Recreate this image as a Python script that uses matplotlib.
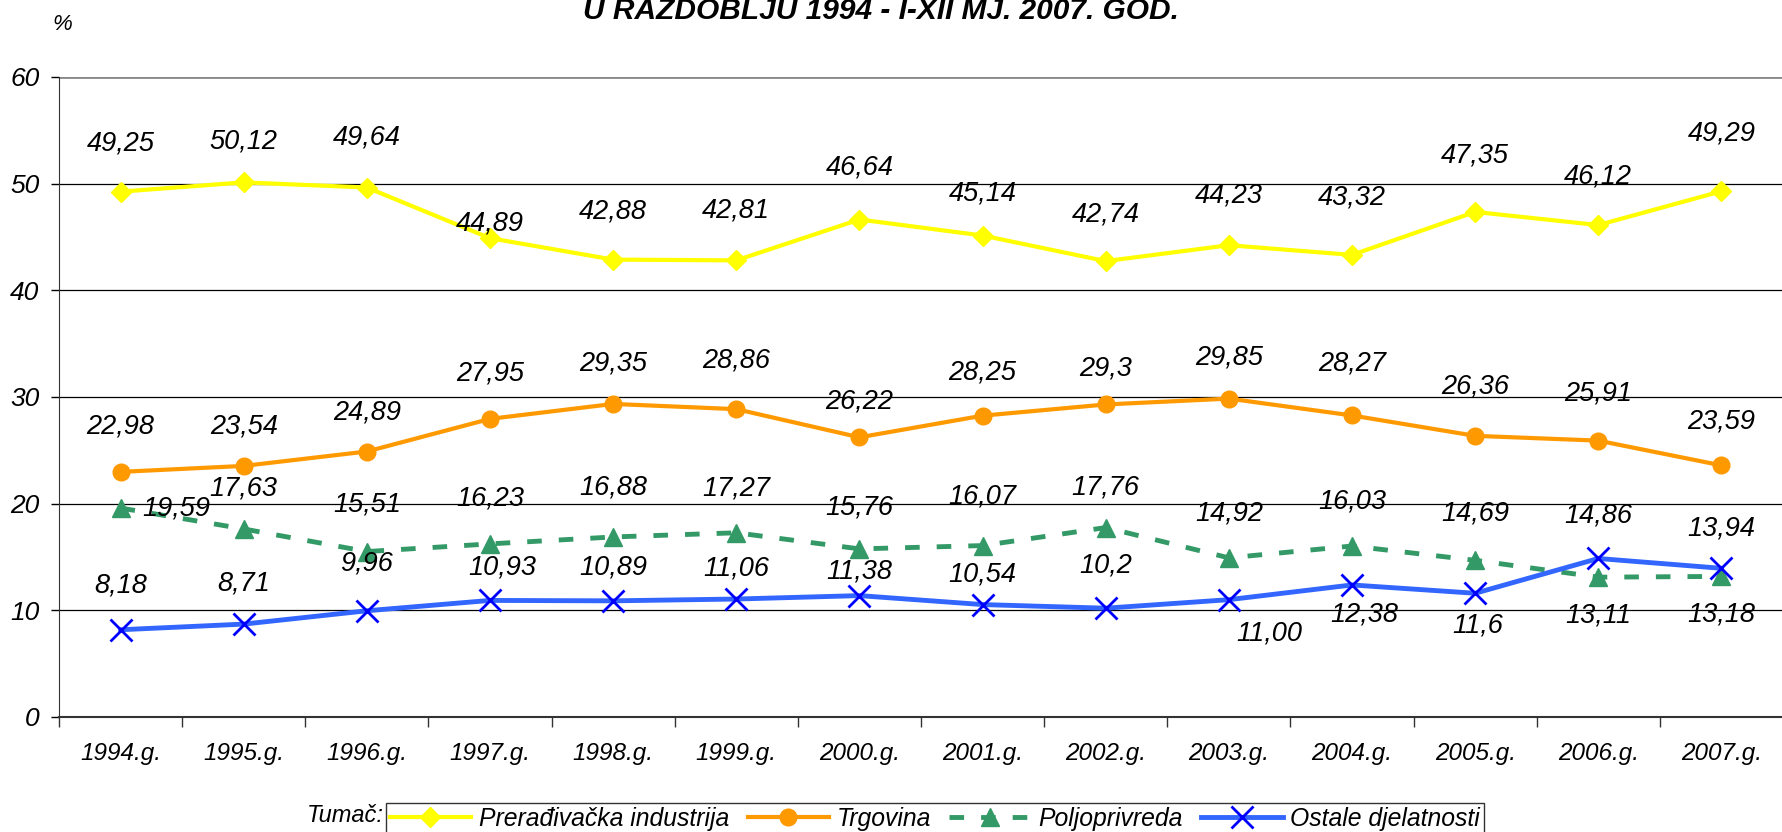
import matplotlib
matplotlib.use("Agg")
import matplotlib.pyplot as plt

plt.rcParams['font.family'] = ['Liberation Sans', 'DejaVu Sans']
plt.rcParams['font.style'] = 'italic'

years = ["1994.g.", "1995.g.", "1996.g.", "1997.g.", "1998.g.", "1999.g.", "2000.g.",
         "2001.g.", "2002.g.", "2003.g.", "2004.g.", "2005.g.", "2006.g.", "2007.g."]

preradjivacka = [49.25, 50.12, 49.64, 44.89, 42.88, 42.81, 46.64, 45.14, 42.74, 44.23, 43.32, 47.35, 46.12, 49.29]
trgovina = [22.98, 23.54, 24.89, 27.95, 29.35, 28.86, 26.22, 28.25, 29.3, 29.85, 28.27, 26.36, 25.91, 23.59]
poljoprivreda = [19.59, 17.63, 15.51, 16.23, 16.88, 17.27, 15.76, 16.07, 17.76, 14.92, 16.03, 14.69, 13.11, 13.18]
ostale = [8.18, 8.71, 9.96, 10.93, 10.89, 11.06, 11.38, 10.54, 10.2, 11.00, 12.38, 11.6, 14.86, 13.94]

lbl_prer = ["49,25", "50,12", "49,64", "44,89", "42,88", "42,81", "46,64", "45,14", "42,74", "44,23", "43,32", "47,35", "46,12", "49,29"]
lbl_trg = ["22,98", "23,54", "24,89", "27,95", "29,35", "28,86", "26,22", "28,25", "29,3", "29,85", "28,27", "26,36", "25,91", "23,59"]
lbl_polj = ["19,59", "17,63", "15,51", "16,23", "16,88", "17,27", "15,76", "16,07", "17,76", "14,92", "16,03", "14,69", "13,11", "13,18"]
lbl_ost = ["8,18", "8,71", "9,96", "10,93", "10,89", "11,06", "11,38", "10,54", "10,2", "11,00", "12,38", "11,6", "14,86", "13,94"]

# label offsets in pixels (dx, dy), dy positive = up
off_prer = [(0, 48), (0, 41), (0, 50), (0, 15), (0, 48), (0, 50), (0, 52), (0, 42), (0, 47), (0, 50), (0, 57), (0, 56), (0, 49), (0, 58)]
off_trg = [(0, 45), (0, 39), (0, 39), (0, 45), (0, 40), (0, 49), (0, 36), (0, 43), (0, 36), (0, 41), (0, 52), (0, 49), (0, 47), (0, 44)]
off_polj = [(56, 0), (0, 40), (0, 47), (0, 45), (0, 49), (0, 44), (0, 41), (0, 49), (0, 40), (0, 44), (0, 45), (0, 47), (0, -38), (0, -38)]
off_ost = [(0, 44), (0, 41), (0, 47), (12, 33), (0, 33), (0, 31), (0, 24), (0, 30), (0, 43), (40, -34), (12, -30), (3, -32), (0, 43), (0, 40)]

fig = plt.figure(figsize=(17.83, 8.32), dpi=100)
ax = fig.add_axes([59 / 1783, 115 / 832, 1724 / 1783, (717 - 77) / 832])

x = list(range(len(years)))

ax.plot(x, preradjivacka, color="#FFFF00", lw=3, marker="D", ms=10, mfc="#FFFF00", mec="#FFFF00",
        label="Prerađivačka industrija", zorder=3)
ax.plot(x, trgovina, color="#FF9900", lw=3, marker="o", ms=12, mfc="#FF9900", mec="#FF9900",
        label="Trgovina", zorder=3)
ax.plot(x, poljoprivreda, color="#339966", lw=3.5, ls=(0, (3, 3.5)), marker="^", ms=13,
        mfc="#339966", mec="#339966", label="Poljoprivreda", zorder=3)
ax.plot(x, ostale, color="#3366FF", lw=3.5, marker="x", ms=16, mew=2, mec="#0000FF",
        label="Ostale djelatnosti", zorder=4)

for vals, lbls, offs in [(preradjivacka, lbl_prer, off_prer), (trgovina, lbl_trg, off_trg),
                         (poljoprivreda, lbl_polj, off_polj), (ostale, lbl_ost, off_ost)]:
    for xi, v, t, (dx, dy) in zip(x, vals, lbls, offs):
        ax.annotate(t, (xi, v), xytext=(dx, dy), textcoords="offset pixels",
                    ha="center", va="center", fontsize=19.5, style="italic", zorder=5)

ax.set_xlim(-0.5, len(years) - 0.5)
ax.set_ylim(0, 60)
ax.set_yticks(range(0, 61, 10))
ax.set_yticklabels([str(v) for v in range(0, 61, 10)], fontsize=19, style="italic")
for yv in range(10, 51, 10):
    ax.axhline(yv, color="black", lw=0.9, zorder=1)
ax.axhline(60, color="#888888", lw=2, zorder=1)

ax.set_xticks([i - 0.5 for i in range(len(years) + 1)])
ax.set_xticklabels([])
ax.set_xticks(x, minor=True)
ax.set_xticklabels(years, minor=True, fontsize=17.5, style="italic")
ax.tick_params(axis="x", which="major", direction="out", length=7, width=1, color="#333333")
ax.tick_params(axis="x", which="minor", length=0, pad=18)
ax.tick_params(axis="y", direction="out", length=6, width=1, pad=8)

for s in ["top", "right"]:
    ax.spines[s].set_visible(False)
ax.spines["left"].set_color("#333333")
ax.spines["bottom"].set_color("#333333")
ax.spines["bottom"].set_linewidth(1.5)

fig.text(881 / 1783, 1 - 19 / 832, "U RAZDOBLJU 1994 - I-XII MJ. 2007. GOD.", ha="center", va="baseline",
         fontsize=21.5, fontweight="bold", style="italic")
fig.text(62 / 1783, 1 - 24 / 832, "%", ha="center", va="center", fontsize=16, style="italic")

leg = fig.legend(loc="upper left", bbox_to_anchor=(386 / 1783, 1 - 803 / 832), ncol=4,
                 fontsize=17.8, frameon=True, fancybox=False, edgecolor="black",
                 handlelength=3.3, handletextpad=0.3, columnspacing=0.75, borderpad=0.15,
                 borderaxespad=0)
leg.get_frame().set_linewidth(1)
for t in leg.get_texts():
    t.set_style("italic")
fig.text(384 / 1783, 1 - 816 / 832, "Tumač:", ha="right", va="center", fontsize=17, style="italic")

fig.savefig("out.png", dpi=100)
